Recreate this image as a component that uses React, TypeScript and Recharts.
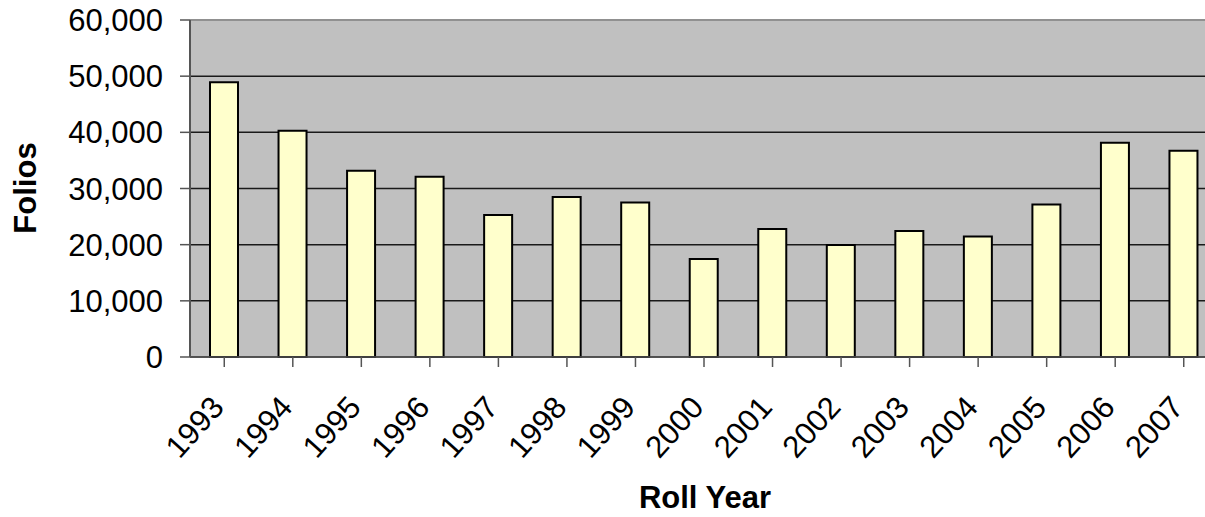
import { BarChart, Bar, XAxis, YAxis, CartesianGrid, ReferenceLine } from 'recharts';

const years = ['1993', '1994', '1995', '1996', '1997', '1998', '1999', '2000', '2001', '2002', '2003', '2004', '2005', '2006', '2007'];
const folios = [48900, 40300, 33150, 32100, 25300, 28500, 27500, 17450, 22800, 19950, 22450, 21450, 27150, 38150, 36700];
const yTicks = [0, 10000, 20000, 30000, 40000, 50000, 60000];

const data = years.map((year, i) => ({ year, folios: folios[i] }));

const font = '"Liberation Sans", Arial, sans-serif';

function YTick(props: any) {
  const { x, y, payload } = props;
  return (
    <text x={x - 15} y={y} dy="0.36em" textAnchor="end" fontFamily={font} fontSize={31} fill="#000">
      {payload.value.toLocaleString('en-US')}
    </text>
  );
}

function XTick(props: any) {
  const { x, y, payload } = props;
  return (
    <g transform={`translate(${x - 7},${y + 32})`}>
      <text x={0} y={0} dy="0.36em" textAnchor="end" transform="rotate(-48)" fontFamily={font} fontSize={31} fill="#000">
        {payload.value}
      </text>
    </g>
  );
}

const yLabel = () => (
  <text transform="translate(36,188) rotate(-90)" textAnchor="middle" fontFamily={font} fontSize={31} fontWeight="bold" fill="#000">
    Folios
  </text>
);

const xLabel = () => (
  <text x={705} y={508} textAnchor="middle" fontFamily={font} fontSize={31} fontWeight="bold" fill="#000">
    Roll Year
  </text>
);

export default function App() {
  return (
    <div style={{ position: 'absolute', left: 0, top: 0, width: 1205, height: 517, overflow: 'hidden', background: '#fff' }}>
      <BarChart width={1230} height={517} data={data} margin={{ top: 20, right: 12, bottom: 0, left: 0 }} barSize={28}>
        <CartesianGrid vertical={false} stroke="#1a1a1a" strokeWidth={1.5} fill="#C0C0C0" />
        <XAxis
          dataKey="year"
          height={160}
          interval={0}
          tick={<XTick />}
          tickSize={10}
          axisLine={{ stroke: '#555', strokeWidth: 1.5 }}
          tickLine={{ stroke: '#555', strokeWidth: 1.5 }}
          label={{ content: xLabel }}
        />
        <YAxis
          width={190}
          domain={[0, 60000]}
          ticks={yTicks}
          tick={<YTick />}
          tickSize={10}
          axisLine={{ stroke: '#555', strokeWidth: 2 }}
          tickLine={{ stroke: '#555', strokeWidth: 1.5 }}
          label={{ content: yLabel }}
        />
        <ReferenceLine y={60000} stroke="#909090" strokeWidth={2} />
        <Bar dataKey="folios" fill="#FFFFCC" stroke="#000" strokeWidth={2} isAnimationActive={false} />
      </BarChart>
    </div>
  );
}
